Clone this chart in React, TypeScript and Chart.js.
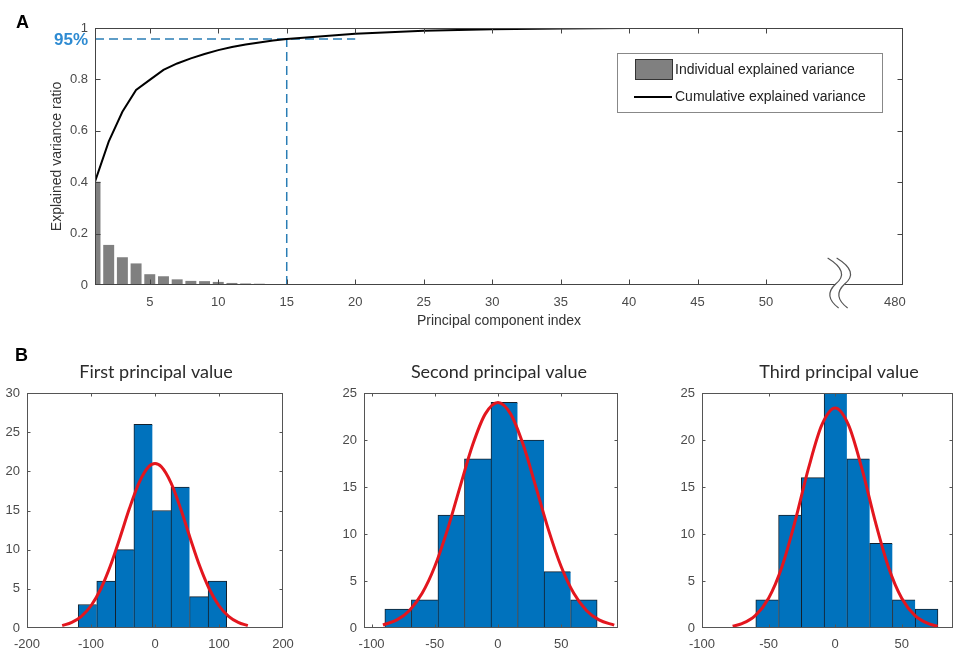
import React, { useEffect, useRef } from "react";
import { Chart, registerables } from "chart.js";
Chart.register(...registerables);

// ---------------- Panel A data ----------------
const componentIndex = [1, 2, 3, 4, 5, 6, 7, 8, 9, 10, 11, 12, 13, 14, 15];
const individualVariance = [0.402, 0.156, 0.108, 0.084, 0.042, 0.034, 0.022, 0.016, 0.015, 0.012, 0.008, 0.006, 0.005, 0.004, 0.003];
const cumulativeIndex = [1, 2, 3, 4, 5, 6, 7, 8, 9, 10, 11, 12, 13, 14, 15, 20, 25, 30, 35, 40, 45, 50, 55, 60];
const cumulativeVariance = [0.402, 0.558, 0.674, 0.759, 0.798, 0.837, 0.862, 0.882, 0.899, 0.914, 0.926, 0.936, 0.944, 0.951, 0.957, 0.978, 0.989, 0.995, 0.998, 1, 1, 1, 1, 1];
const pcaXTicks = [5, 10, 15, 20, 25, 30, 35, 40, 45, 50];
const pcaYTicks = [0, 0.2, 0.4, 0.6, 0.8, 1];
const pcaXMin = 1;
const pcaXMax = 60;
const pcaLastTick = 59.4;
const pcaLastLabel = "480";
const pcaBreakAt = 55.3;
const thresholdX = 15;
const thresholdY = 0.957;
const thresholdLineEnd = 20;
const thresholdLabel = "95%";

// ---------------- Panel B data ----------------
const hist1Edges = [-120, -91, -62, -33, -4, 25, 54, 83, 112];
const hist1Counts = [3, 6, 10, 26, 15, 18, 4, 6];
const fit1X = [-145, -130, -115, -100, -85, -70, -55, -40, -25, -10, 0, 10, 25, 40, 55, 70, 85, 100, 115, 130, 145];
const fit1Y = [0.31, 0.72, 1.49, 2.84, 4.95, 7.88, 11.47, 15.25, 18.53, 20.58, 21, 20.58, 18.53, 15.25, 11.47, 7.88, 4.95, 2.84, 1.49, 0.72, 0.31];
const hist1XTicks = [-200, -100, 0, 100, 200];
const hist1YTicks = [0, 5, 10, 15, 20, 25, 30];

const hist2Edges = [-89.5, -68.5, -47.5, -26.5, -5.5, 15.5, 36.5, 57.5, 78.5];
const hist2Counts = [2, 3, 12, 18, 24, 20, 6, 3];
const fit2X = [-91, -80, -70, -60, -50, -40, -30, -20, -10, 0, 10, 20, 30, 40, 50, 60, 70, 80, 92];
const fit2Y = [0.32, 0.86, 1.87, 3.69, 6.54, 10.44, 15.02, 19.49, 22.78, 24, 22.78, 19.49, 15.02, 10.44, 6.54, 3.69, 1.87, 0.86, 0.3];
const hist2XTicks = [-100, -50, 0, 50];
const hist2YTicks = [0, 5, 10, 15, 20, 25];

const hist3Edges = [-59.6, -42.5, -25.4, -8.3, 8.8, 25.9, 43, 60.1, 77.2];
const hist3Counts = [3, 12, 16, 25, 18, 9, 3, 2];
const fit3X = [-77, -70, -60, -50, -40, -30, -20, -10, 0, 10, 20, 30, 40, 50, 60, 70, 77];
const fit3Y = [0.2, 0.46, 1.31, 3.17, 6.5, 11.4, 17.0, 21.6, 23.4, 21.6, 17.0, 11.4, 6.5, 3.17, 1.31, 0.46, 0.2];
const hist3XTicks = [-100, -50, 0, 50];
const hist3YTicks = [0, 5, 10, 15, 20, 25];

const histTitles = ["First principal value", "Second principal value", "Third principal value"];

// ---------------- styles ----------------
const TICK_FONT = { family: "'Liberation Sans', Arial, sans-serif", size: 13 };
const TICK_COLOR = "#4a4a4a";

function boxPlugin(color: string, tickLen: number, skipX: number[] = []) {
  return {
    id: "matlabBox",
    afterDatasetsDraw(chart: any) {
      const { ctx, chartArea: a, scales } = chart;
      ctx.save();
      ctx.strokeStyle = color;
      ctx.lineWidth = 1;
      const l = Math.round(a.left) + 0.5, r = Math.round(a.right) - 0.5;
      const t = Math.round(a.top) + 0.5, b = Math.round(a.bottom) - 0.5;
      ctx.strokeRect(l, t, r - l, b - t);
      ctx.beginPath();
      scales.x.ticks.forEach((tk: any) => {
        if (skipX.includes(tk.value)) return;
        const px = Math.round(scales.x.getPixelForValue(tk.value)) + 0.5;
        if (px < l + 1 || px > r - 1) return;
        ctx.moveTo(px, b); ctx.lineTo(px, b - tickLen);
        ctx.moveTo(px, t); ctx.lineTo(px, t + tickLen);
      });
      scales.y.ticks.forEach((tk: any) => {
        const py = Math.round(scales.y.getPixelForValue(tk.value)) + 0.5;
        if (py < t + 1 || py > b - 1) return;
        ctx.moveTo(l, py); ctx.lineTo(l + tickLen, py);
        ctx.moveTo(r, py); ctx.lineTo(r - tickLen, py);
      });
      ctx.stroke();
      ctx.restore();
    },
  };
}

const panelAExtras = {
  id: "panelAExtras",
  beforeDatasetsDraw(chart: any) {
    const { ctx, chartArea: a, scales } = chart;
    const y = scales.y.getPixelForValue(thresholdY);
    const x = scales.x.getPixelForValue(thresholdX);
    const x1 = scales.x.getPixelForValue(thresholdLineEnd);
    ctx.save();
    ctx.strokeStyle = "#2a7db5";
    ctx.lineWidth = 1.5;
    ctx.setLineDash([9, 5]);
    ctx.beginPath();
    ctx.moveTo(a.left, y); ctx.lineTo(x1, y);
    ctx.moveTo(x, a.bottom); ctx.lineTo(x, y);
    ctx.stroke();
    ctx.restore();
  },
  afterDraw(chart: any) {
    const { ctx, chartArea: a, scales } = chart;
    ctx.save();
    // 95% label
    const y = scales.y.getPixelForValue(thresholdY);
    ctx.font = "bold 17px 'Liberation Sans', Arial, sans-serif";
    ctx.fillStyle = "#2e8bd2";
    ctx.textAlign = "right";
    ctx.textBaseline = "middle";
    ctx.fillText(thresholdLabel, 88, y + 1);
    // axis break
    const bx = scales.x.getPixelForValue(pcaBreakAt);
    const yb = a.bottom;
    ctx.fillStyle = "#fff";
    ctx.fillRect(bx - 3, yb - 3, 9, 5);
    ctx.strokeStyle = "#555";
    ctx.lineWidth = 1.2;
    [0, 9].forEach((dx) => {
      ctx.beginPath();
      ctx.moveTo(bx - 11 + dx, yb - 27);
      ctx.quadraticCurveTo(bx + 12 + dx, yb - 13, bx - 3 + dx, yb - 1);
      ctx.quadraticCurveTo(bx - 16 + dx, yb + 11, bx + dx, yb + 23);
      ctx.stroke();
    });
    // legend
    const lx = 617.5, ly = 53.5, lw = 265, lh = 59;
    ctx.fillStyle = "#fff";
    ctx.fillRect(lx, ly, lw, lh);
    ctx.strokeStyle = "#888";
    ctx.lineWidth = 1;
    ctx.strokeRect(lx, ly, lw, lh);
    const ds = chart.data.datasets;
    ctx.fillStyle = "#808080";
    ctx.fillRect(635, 59, 37, 20);
    ctx.strokeStyle = "#333";
    ctx.strokeRect(635.5, 59.5, 37, 20);
    ctx.strokeStyle = "#000";
    ctx.lineWidth = 2;
    ctx.beginPath();
    ctx.moveTo(634, 97); ctx.lineTo(672, 97);
    ctx.stroke();
    ctx.font = "14px 'Liberation Sans', Arial, sans-serif";
    ctx.fillStyle = "#222";
    ctx.textAlign = "left";
    ctx.textBaseline = "middle";
    ctx.fillText(ds[1].label, 675, 70);
    ctx.fillText(ds[0].label, 675, 97);
    ctx.restore();
  },
};

const panelAConfig: any = {
  type: "bar",
  data: {
    datasets: [
      {
        type: "line",
        label: "Cumulative explained variance",
        data: cumulativeIndex.map((x, i) => ({ x, y: cumulativeVariance[i] })),
        borderColor: "#000",
        borderWidth: 2,
        pointRadius: 0,
        tension: 0,
        fill: false,
      },
      {
        type: "bar",
        label: "Individual explained variance",
        data: componentIndex.map((x, i) => ({ x, y: individualVariance[i] })),
        backgroundColor: "#808080",
        borderWidth: 0,
        barPercentage: 0.8,
        categoryPercentage: 1,
      },
    ],
  },
  options: {
    responsive: false,
    animation: false,
    layout: { padding: { left: 45, top: 28, right: 52, bottom: 6 } },
    plugins: { legend: { display: false }, tooltip: { enabled: false } },
    scales: {
      x: {
        type: "linear",
        min: pcaXMin,
        max: pcaXMax,
        offset: false,
        grid: { display: false, drawTicks: false },
        border: { display: false },
        afterBuildTicks: (s: any) => {
          s.ticks = [...pcaXTicks, pcaLastTick].map((v) => ({ value: v }));
        },
        afterFit: (s: any) => { s.height = 49; },
        ticks: {
          callback: (v: number) => (v === pcaLastTick ? pcaLastLabel : String(v)),
          font: TICK_FONT, color: TICK_COLOR, padding: 10, maxRotation: 0, autoSkip: false,
        },
        title: {
          display: true, text: "Principal component index",
          font: { family: "'Liberation Sans', Arial, sans-serif", size: 14 }, color: "#333",
          padding: { top: 4, bottom: 4 },
        },
      },
      y: {
        type: "linear",
        min: 0,
        max: 1,
        grid: { display: false, drawTicks: false },
        border: { display: false },
        afterBuildTicks: (s: any) => { s.ticks = pcaYTicks.map((v) => ({ value: v })); },
        afterFit: (s: any) => { s.width = 50; },
        ticks: {
          callback: (v: number) => (v === 0 ? "0" : v === 1 ? "1" : v.toFixed(1)),
          font: TICK_FONT, color: TICK_COLOR, padding: 7,
        },
        title: {
          display: true, text: "Explained variance ratio",
          font: { family: "'Liberation Sans', Arial, sans-serif", size: 14 }, color: "#333",
          padding: { top: 4, bottom: 4 },
        },
      },
    },
  },
  plugins: [panelAExtras, boxPlugin("#444", 5, [pcaLastTick])],
};

function titlePlugin(text: string, x: number, y: number) {
  return {
    id: "histTitle",
    afterDraw(chart: any) {
      const { ctx } = chart;
      ctx.save();
      ctx.font = "18px Lato, 'Open Sans', sans-serif";
      ctx.fillStyle = "#2b2b2b";
      ctx.textAlign = "center";
      ctx.textBaseline = "middle";
      ctx.fillText(text, x, y);
      ctx.restore();
    },
  };
}

function makeHistConfig(
  title: string, edges: number[], counts: number[], fitX: number[], fitY: number[],
  xMin: number, xMax: number, xTicks: number[], yMax: number, yTicks: number[],
  lay: { padLeft: number; yWidth: number; padRight: number; titleX: number }
): any {
  const centers = counts.map((_, i) => (edges[i] + edges[i + 1]) / 2);
  const n = counts.length;
  return {
    type: "bar",
    data: {
      datasets: [
        {
          type: "line",
          label: "Normal fit",
          data: fitX.map((x, i) => ({ x, y: fitY[i] })),
          borderColor: "#e3161e",
          borderWidth: 3,
          pointRadius: 0,
          cubicInterpolationMode: "monotone",
          fill: false,
        },
        {
          type: "bar",
          label: "Count",
          data: centers.map((x, i) => ({ x, y: counts[i] })),
          backgroundColor: "#0072BD",
          borderColor: "#14202c",
          borderSkipped: false,
          borderWidth: (c: any) => ({ left: 1, top: 1, bottom: 0, right: c.dataIndex === n - 1 ? 1 : 0 }),
          barPercentage: 1,
          categoryPercentage: 1,
        },
      ],
    },
    options: {
      responsive: false,
      animation: false,
      layout: { padding: { left: lay.padLeft, top: 53, right: lay.padRight, bottom: 0 } },
      plugins: { legend: { display: false }, tooltip: { enabled: false } },
      scales: {
        x: {
          type: "linear", min: xMin, max: xMax, offset: false,
          grid: { display: false, drawTicks: false },
          border: { display: false },
          afterBuildTicks: (s: any) => { s.ticks = xTicks.map((v) => ({ value: v })); },
          afterFit: (s: any) => { s.height = 23; },
          ticks: { font: TICK_FONT, color: TICK_COLOR, padding: 9, maxRotation: 0, autoSkip: false },
        },
        y: {
          type: "linear", min: 0, max: yMax,
          grid: { display: false, drawTicks: false },
          border: { display: false },
          afterBuildTicks: (s: any) => { s.ticks = yTicks.map((v) => ({ value: v })); },
          afterFit: (s: any) => { s.width = lay.yWidth; },
          ticks: { font: TICK_FONT, color: TICK_COLOR, padding: 7 },
        },
      },
    },
    plugins: [boxPlugin("#555", 3), titlePlugin(title, lay.titleX, 32)],
  };
}

function ChartBox({ left, top, width, height, config }: any) {
  const ref = useRef<HTMLCanvasElement>(null);
  useEffect(() => {
    const chart = new Chart(ref.current as HTMLCanvasElement, config);
    return () => chart.destroy();
  }, []);
  return (
    <div style={{ position: "absolute", left, top, width, height }}>
      <canvas ref={ref} width={width} height={height} style={{ display: "block" }} />
    </div>
  );
}

export default function App() {
  Chart.defaults.font.family = "'Liberation Sans', Arial, sans-serif";
  const h1 = makeHistConfig(histTitles[0], hist1Edges, hist1Counts, fit1X, fit1Y, -200, 200, hist1XTicks, 30, hist1YTicks,
    { padLeft: 0, yWidth: 27, padRight: 37, titleX: 156 });
  const h2 = makeHistConfig(histTitles[1], hist2Edges, hist2Counts, fit2X, fit2Y, -106, 95, hist2XTicks, 25, hist2YTicks,
    { padLeft: 10, yWidth: 34, padRight: 22, titleX: 499 - 320 });
  const h3 = makeHistConfig(histTitles[2], hist3Edges, hist3Counts, fit3X, fit3Y, -100, 88.5, hist3XTicks, 25, hist3YTicks,
    { padLeft: 20, yWidth: 42, padRight: 2, titleX: 839 - 640 });
  const labelStyle: any = {
    position: "absolute", font: "bold 18px 'Liberation Sans', Arial, sans-serif", lineHeight: "20px", color: "#000",
  };
  return (
    <div style={{ position: "absolute", left: 0, top: 0, width: 955, height: 651, background: "#fff", overflow: "hidden" }}>
      <ChartBox left={0} top={0} width={955} height={340} config={panelAConfig} />
      <ChartBox left={0} top={340} width={320} height={311} config={h1} />
      <ChartBox left={320} top={340} width={320} height={311} config={h2} />
      <ChartBox left={640} top={340} width={315} height={311} config={h3} />
      <div style={{ ...labelStyle, left: 16, top: 12 }}>A</div>
      <div style={{ ...labelStyle, left: 15, top: 345 }}>B</div>
    </div>
  );
}
